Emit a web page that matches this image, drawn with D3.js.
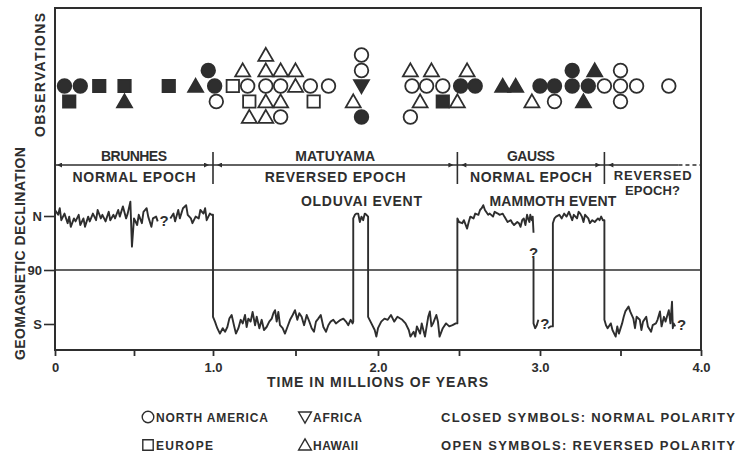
<!DOCTYPE html>
<html>
<head>
<meta charset="utf-8">
<script src="https://cdn.jsdelivr.net/npm/d3@7/dist/d3.min.js"></script>
<style>
  html, body { margin: 0; padding: 0; background: #fff; }
  svg text { font-family: "Liberation Sans", Arial, sans-serif; font-weight: bold; fill: #2e2e2e; }
</style>
</head>
<body>
<script>
// declination record, [time in Myr, degrees from north], null = break in the trace
const brunhes = [[0.00,-10],[0.02,-2],[0.03,-13],[0.04,7],[0.06,-4],[0.08,12],[0.09,1],[0.10,18],[0.12,4],[0.13,9],
  [0.15,-2],[0.16,15],[0.18,4],[0.19,18],[0.21,1],[0.22,9],[0.24,-4],[0.26,7],[0.27,-10],[0.29,4],[0.30,-2],[0.32,9],
  [0.34,-7],[0.35,7],[0.37,-2],[0.38,4],[0.40,-10],[0.41,1],[0.43,-16],[0.45,4],[0.46,-4],[0.477,-24],[0.487,51],[0.50,4],
  [0.52,15],[0.53,-2],[0.55,12],[0.56,-7],[0.58,-13],[0.59,1],[0.61,18],[0.62,4],[0.64,1],[0.65,9],null,
  [0.73,4],[0.75,-4],[0.76,9],[0.78,-10],[0.79,4],[0.81,-13],[0.83,-18],[0.84,-2],[0.86,4],[0.87,12],[0.89,1],[0.91,4],
  [0.92,-10],[0.94,-4],[0.95,-13],[0.96,7],[0.98,-4],[0.99,-2],[1.00,-2]]
const matuyama1 = [[1.00,168],[1.012,176],[1.026,187],[1.042,196],[1.059,187],[1.073,193],[1.087,185],[1.099,171],[1.113,165],
  [1.127,182],[1.139,196],[1.154,187],[1.168,173],[1.18,179],[1.194,165],[1.204,185],[1.214,171],[1.228,176],[1.24,160],
  [1.255,182],[1.265,168],[1.281,187],[1.295,173],[1.309,190],[1.325,185],[1.341,176],[1.356,171],[1.366,162],[1.376,157],
  [1.386,176],[1.396,160],[1.406,182],[1.422,187],[1.436,196],[1.451,185],[1.467,173],[1.483,165],[1.497,157],[1.511,173],
  [1.523,162],[1.537,168],[1.552,182],[1.568,165],[1.584,176],[1.598,187],[1.612,193],[1.624,176],[1.638,171],[1.653,165],
  [1.669,185],[1.685,193],[1.699,182],[1.713,176],[1.729,173],[1.745,179],[1.76,176],[1.774,173],[1.79,171],[1.806,176],
  [1.82,182],[1.834,173],[1.846,179],[1.85,176]]
const olduvai = [[1.85,4],[1.86,-2],[1.87,-4],[1.88,-4],[1.89,10],[1.90,1],[1.91,7],[1.92,-4],[1.93,-2],[1.94,1]]
const matuyama2 = [[1.94,168],[1.96,179],[1.98,190],[1.99,201],[2.00,187],[2.02,176],[2.04,171],[2.06,173],[2.08,165],
  [2.10,176],[2.12,168],[2.15,173],[2.17,179],[2.19,190],[2.20,201],[2.22,193],[2.23,201],[2.24,184],[2.26,196],[2.27,179],
  [2.29,201],[2.31,168],[2.32,159],[2.33,184],[2.34,179],[2.36,165],[2.37,176],[2.38,201],[2.40,187],[2.42,179],[2.44,184],
  [2.46,182],[2.48,179],[2.49,179]]
const gauss1 = [[2.49,4],[2.50,10],[2.52,12],[2.53,7],[2.55,21],[2.56,10],[2.57,1],[2.59,4],[2.60,-4],[2.62,-2],[2.63,-10],
  [2.64,-13],[2.65,-18],[2.66,-10],[2.68,-2],[2.69,-4],[2.71,1],[2.72,-7],[2.74,-4],[2.75,-2],[2.77,-4],[2.78,1],[2.80,10],
  [2.82,7],[2.83,12],[2.84,15],[2.86,10],[2.87,12],[2.88,18],[2.89,7],[2.90,4],[2.91,15],[2.92,-2],[2.93,7],[2.935,10],
  [2.94,-2],[2.95,7],[2.955,1],[2.96,28],null]
const mammoth = [[2.96,70],[2.96,179],[2.97,187],[2.98,182],[2.99,173],null,[3.05,187],[3.065,184],[3.08,184]]
const gauss2 = [[3.08,12],[3.09,4],[3.10,1],[3.12,-2],[3.135,4],[3.15,-4],[3.165,1],[3.18,-7],[3.20,7],[3.21,-2],[3.23,4],
  [3.24,-7],[3.25,-4],[3.26,1],[3.27,10],[3.28,-2],[3.30,4],[3.31,12],[3.325,7],[3.34,10],[3.36,4],[3.37,7],[3.38,1],
  [3.39,7],[3.40,7]]
const reversed = [[3.40,173],[3.41,182],[3.42,187],[3.44,179],[3.45,190],[3.47,201],[3.48,184],[3.49,196],[3.51,179],
  [3.52,168],[3.53,159],[3.55,151],[3.56,159],[3.58,171],[3.59,187],[3.60,168],[3.62,173],[3.63,190],[3.64,176],[3.66,168],
  [3.67,184],[3.69,193],[3.70,182],[3.72,179],[3.73,173],[3.745,159],[3.755,184],[3.77,168],[3.78,176],[3.80,157],
  [3.81,179],[3.82,143],[3.825,187],[3.83,179],[3.84,184]]

// observations by region: [time, stack row (0 = main row), polarity]
const northAmerica = [[0.06,0,"N"],[0.16,0,"N"],[0.97,1,"N"],[1.01,0,"N"],[1.02,-1,"R"],
  [1.21,0,"R"],[1.32,0,"R"],[1.41,0,"R"],[1.59,0,"R"],[1.70,0,"R"],[1.41,-2,"R"],
  [1.90,2,"R"],[1.90,1,"R"],[1.90,-2,"N"],
  [2.21,0,"R"],[2.30,0,"R"],[2.40,0,"R"],[2.51,0,"N"],[2.60,0,"N"],[2.20,-2,"R"],
  [3.00,0,"N"],[3.09,0,"N"],[3.20,0,"N"],[3.30,0,"N"],[3.20,1,"N"],[3.09,-1,"R"],
  [3.40,0,"R"],[3.50,0,"R"],[3.60,0,"R"],[3.50,1,"R"],[3.50,-1,"R"],[3.80,0,"R"]]
const europe = [[0.09,-1,"N"],[0.28,0,"N"],[0.44,0,"N"],[0.72,0,"N"],[1.12,0,"R"],[1.22,-1,"R"],[1.61,-1,"R"],[2.40,-1,"N"]]
const africa = [[1.90,0,"N"]]
const hawaii = [[0.44,-1,"N"],[0.89,0,"N"],[1.18,1,"R"],[1.32,2,"R"],[1.32,1,"R"],[1.41,1,"R"],[1.50,1,"R"],[1.50,0,"R"],
  [1.32,-1,"R"],[1.41,-1,"R"],[1.22,-2,"R"],[1.32,-2,"R"],[1.85,-1,"R"],[2.20,1,"R"],[2.33,1,"R"],[2.55,1,"R"],
  [2.26,-1,"R"],[2.49,-1,"R"],[2.77,0,"N"],[2.85,0,"N"],[2.95,-1,"R"],[3.34,1,"N"],[3.27,-1,"N"]]

const epochBounds = [0, 1.0, 2.49, 3.4, 4.0]
const epochNames = ["BRUNHES", "MATUYAMA", "GAUSS", ""]
const epochKinds = ["NORMAL EPOCH", "REVERSED EPOCH", "NORMAL EPOCH", "REVERSED"]
const events = [["OLDUVAI EVENT", 1.90], ["MAMMOTH EVENT", 3.08]]
const doubtful = [[0.69, 8], [2.96, 62], [3.03, 180], [3.88, 181]]   // "?" marks

const timeTicks = [0, 0.5, 1, 1.5, 2, 2.5, 3, 3.5, 4]
const declTicks = [0, 90, 180]
const declLabels = ["N", "90", "S"]

const width = 736, height = 460
const ink = "#2e2e2e"

const svg = d3.select("body").append("svg")
    .attr("width", width)
    .attr("height", height)

// the printed time axis is slightly uneven, so map each whole unit
const x = d3.scaleLinear().domain([0, 1, 2, 3, 4]).range([55, 213, 378, 540, 701])
const y = d3.scaleLinear().domain([0, 180]).range([216, 324])
const row = d3.scaleLinear().domain([2, -2]).range([55, 117])

const frame = {top: 8, bottom: 350, left: x(0), right: x(4)}

function txt(s, x0, y0, w, size) {
  const t = svg.append("text").attr("x", x0).attr("y", y0).attr("font-size", size || 14).text(s)
  if (w) t.attr("textLength", w).attr("lengthAdjust", "spacing")
  return t
}

// axes
const xAxis = svg.append("g")
    .attr("transform", `translate(0,${frame.bottom})`)
    .call(d3.axisBottom(x).tickValues(timeTicks).tickSize(6).tickPadding(8)
      .tickFormat(d => d === 0 ? "0" : (d % 1 === 0 ? d.toFixed(1) : "")))
xAxis.select(".domain").remove()
xAxis.selectAll("line").attr("stroke", ink).attr("stroke-width", 1.8)
xAxis.selectAll("text").attr("font-size", 13).attr("font-family", null).attr("fill", ink).attr("dy", "0.6em")

const yAxis = svg.append("g")
    .attr("transform", `translate(${frame.left},0)`)
    .call(d3.axisLeft(y).tickValues(declTicks).tickSize(11).tickPadding(2)
      .tickFormat((d, i) => declLabels[i]))
yAxis.select(".domain").remove()
yAxis.selectAll("line").attr("stroke", ink).attr("stroke-width", 1.6)
yAxis.selectAll("text").attr("font-size", 13).attr("font-family", null).attr("fill", ink)

// 90 degree reference line
svg.append("line")
    .attr("x1", frame.left).attr("x2", frame.right)
    .attr("y1", y(90)).attr("y2", y(90))
    .attr("stroke", ink).attr("stroke-width", 1.6)

// declination trace
const declination = [].concat(brunhes, matuyama1, olduvai, matuyama2, gauss1, mammoth, gauss2, reversed)
const line = d3.line()
    .defined(d => d !== null)
    .x(d => x(d[0]))
    .y(d => y(d[1]))
svg.append("path")
    .datum(declination)
    .attr("d", line)
    .attr("fill", "none")
    .attr("stroke", ink)
    .attr("stroke-width", 1.9)
    .attr("stroke-linejoin", "round")

doubtful.forEach(([t, v]) => {
  txt("?", x(t), y(v) + 5, null, 15).attr("text-anchor", "middle")
})

// frame
svg.append("rect")
    .attr("x", frame.left).attr("y", frame.top)
    .attr("width", frame.right - frame.left).attr("height", frame.bottom - frame.top)
    .attr("fill", "none").attr("stroke", ink).attr("stroke-width", 2)

// epoch band
const bandY = 165
svg.append("defs").append("marker")
    .attr("id", "head")
    .attr("viewBox", "0 0 10 10").attr("refX", 10).attr("refY", 5)
    .attr("markerWidth", 7).attr("markerHeight", 5)
    .attr("markerUnits", "userSpaceOnUse")
    .attr("orient", "auto-start-reverse")
  .append("path").attr("d", "M0,0L10,5L0,10Z").attr("fill", ink)

svg.append("line")
    .attr("x1", frame.left).attr("x2", x(3.86))
    .attr("y1", bandY).attr("y2", bandY)
    .attr("stroke", ink).attr("stroke-width", 1.4)
svg.append("line")
    .attr("x1", x(3.86)).attr("x2", frame.right)
    .attr("y1", bandY).attr("y2", bandY)
    .attr("stroke", ink).attr("stroke-width", 1.4).attr("stroke-dasharray", "4,3")

epochBounds.slice(1, 4).forEach(t => {
  svg.append("line")
      .attr("x1", x(t)).attr("x2", x(t))
      .attr("y1", 152).attr("y2", 184)
      .attr("stroke", ink).attr("stroke-width", 1.6)
})

epochBounds.slice(0, 4).forEach((t0, i) => {
  const a = x(t0) + (i === 0 ? 2 : 4), b = x(epochBounds[i + 1]) - 4
  svg.append("line")
      .attr("x1", a + 6).attr("x2", a)
      .attr("y1", bandY).attr("y2", bandY)
      .attr("stroke", "none").attr("marker-end", "url(#head)")
  if (i < 3) {
    svg.append("line")
        .attr("x1", b - 6).attr("x2", b)
        .attr("y1", bandY).attr("y2", bandY)
        .attr("stroke", "none").attr("marker-end", "url(#head)")
  }
})

const nameW = [66, 80, 48, 0]
const kindW = [123, 141, 122, 78]
epochNames.forEach((s, i) => {
  const c = (x(epochBounds[i]) + x(epochBounds[i + 1])) / 2
  if (s) txt(s, c - nameW[i] / 2, 161, nameW[i])
  if (i < 3) txt(epochKinds[i], c - kindW[i] / 2, 182, kindW[i])
  else txt(epochKinds[i], c - kindW[i] / 2, 180, kindW[i], 13)
})
txt("EPOCH?", 625, 195, 55, 13)

const eventW = [121, 127]
events.forEach(([s, t], i) => {
  txt(s, x(t) - eventW[i] / 2, 206, eventW[i])
})

// observation symbols
const shapes = {
  circle: r => `M${r},0A${r},${r} 0 1,1 ${-r},0A${r},${r} 0 1,1 ${r},0Z`,
  square: r => `M${-r},${-r}H${r}V${r}H${-r}Z`,
  up: r => `M0,${-r * 1.05}L${r * 1.1},${r * 0.85}H${-r * 1.1}Z`,
  down: r => `M0,${r * 1.05}L${r * 1.1},${-r * 0.85}H${-r * 1.1}Z`
}
const sizes = {circle: 6.8, square: 6.2, up: 6.8, down: 6.8}

const regions = [
  {name: "NORTH AMERICA", shape: "circle", data: northAmerica},
  {name: "EUROPE", shape: "square", data: europe},
  {name: "AFRICA", shape: "down", data: africa},
  {name: "HAWAII", shape: "up", data: hawaii}
]

const obs = svg.append("g")
regions.forEach(reg => {
  obs.selectAll(null)
      .data(reg.data)
      .join("path")
      .attr("transform", d => `translate(${x(d[0])},${row(d[1])})`)
      .attr("d", shapes[reg.shape](sizes[reg.shape]))
      .attr("fill", d => d[2] === "N" ? ink : "#fff")
      .attr("stroke", ink)
      .attr("stroke-width", 1.8)
})

// axis titles
txt("TIME IN MILLIONS OF YEARS", 267, 387, 221)
txt("GEOMAGNETIC DECLINATION", 0, 0, 213)
    .attr("transform", "translate(25,360) rotate(-90)")
txt("OBSERVATIONS", 0, 0, 124)
    .attr("transform", "translate(45,137) rotate(-90)")

// legend
const legendPos = {"NORTH AMERICA": [148, 422], "AFRICA": [305, 422], "EUROPE": [148, 450], "HAWAII": [305, 450]}
const legendW = {"NORTH AMERICA": 112, "AFRICA": 49, "EUROPE": 57, "HAWAII": 45}
regions.forEach(reg => {
  const [lx, ly] = legendPos[reg.name]
  svg.append("path")
      .attr("transform", `translate(${lx},${ly - 5})`)
      .attr("d", shapes[reg.shape](sizes[reg.shape] - 1))
      .attr("fill", "#fff").attr("stroke", ink).attr("stroke-width", 1.4)
  txt(reg.name, lx + 8, ly, legendW[reg.name], 12)
})
txt("CLOSED SYMBOLS: NORMAL POLARITY", 441, 422, 294, 13)
txt("OPEN SYMBOLS: REVERSED POLARITY", 441, 450, 294, 13)
</script>
</body>
</html>
